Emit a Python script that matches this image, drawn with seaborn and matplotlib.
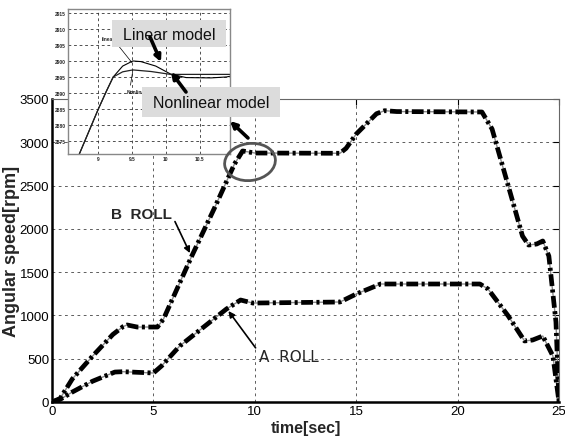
import matplotlib
matplotlib.use("Agg")
import matplotlib.pyplot as plt
from matplotlib.patches import Rectangle, Ellipse, FancyArrowPatch
import seaborn as sns

# Roll speed profiles (time in s, angular speed in rpm)
t_b = [0.0, 0.4, 1.0, 2.0, 3.0, 3.5, 3.7, 4.2, 5.2, 5.5, 6.9, 8.0, 9.0, 9.4,
       10.0, 14.2, 14.5, 15.0, 16.0, 16.4, 17.0, 21.2, 21.7, 22.5, 23.2, 23.5,
       23.9, 24.2, 24.5, 24.85, 25.0]
v_b = [0, 40, 266, 530, 780, 870, 890, 866, 866, 960, 1690, 2235, 2750, 2900,
       2876, 2873, 2930, 3095, 3330, 3365, 3355, 3350, 3153, 2495, 1917, 1813,
       1825, 1860, 1686, 924, 0]

t_a = [0.0, 0.4, 1.0, 2.0, 3.1, 3.5, 5.0, 5.4, 6.3, 8.6, 9.3, 9.9, 14.2, 15.0,
       16.2, 21.1, 21.5, 22.5, 23.3, 23.7, 24.2, 24.4, 24.7, 25.0]
v_a = [0, 30, 115, 240, 346, 350, 335, 416, 647, 1074, 1178, 1143, 1155, 1247,
       1363, 1363, 1305, 993, 705, 716, 762, 670, 531, 0]

# Zoomed view around the first speed peak: linear vs nonlinear model
t_lin = [8.70, 9.00, 9.12, 9.22, 9.36, 9.51, 9.63, 9.85, 10.07, 10.30, 10.67, 10.90, 10.97]
v_lin = [2870.0, 2885.0, 2890.6, 2895.0, 2898.4, 2900.0, 2899.8, 2898.4, 2895.9,
         2894.8, 2894.7, 2895.0, 2895.3]
t_nl = [8.70, 9.00, 9.12, 9.22, 9.36, 9.51, 9.78, 10.07, 10.97]
v_nl = [2870.0, 2885.0, 2890.6, 2895.0, 2896.6, 2897.2, 2896.7, 2895.8, 2895.8]

x_ticks = [0, 5, 10, 15, 20, 25]
y_ticks = [0, 500, 1000, 1500, 2000, 2500, 3000, 3500]
inset_x_ticks = [9, 9.5, 10, 10.5]
inset_x_labels = ["9", "9.5", "10", "10.5"]
inset_y_ticks = [2875, 2880, 2885, 2890, 2895, 2900, 2905, 2910, 2915]

sns.set_theme(style="white")
plt.rcParams["font.family"] = ["Liberation Sans Narrow", "Liberation Sans", "DejaVu Sans"]
plt.rcParams["lines.scale_dashes"] = False

W, H = 565, 439
fig = plt.figure(figsize=(W / 100, H / 100), dpi=100)
fig.patch.set_facecolor("white")


def frac(x0, y0, x1, y1):
    """Axes rectangle from top-left pixel box."""
    return [x0 / W, 1 - y1 / H, (x1 - x0) / W, (y1 - y0) / H]


ax = fig.add_axes(frac(52, 100, 559, 403))
ax.set_facecolor("white")

dash = (0, (8.5, 2.5, 2.2, 2.5))
for tt, vv in ((t_b, v_b), (t_a, v_a)):
    sns.lineplot(x=tt, y=vv, ax=ax, color="#8a8a8a", lw=1.0, sort=False,
                 estimator=None, zorder=3)
    sns.lineplot(x=tt, y=vv, ax=ax, color="black", lw=3.4, sort=False,
                 estimator=None, linestyle=dash, zorder=4)

ax.set_xlim(0, 25)
ax.set_ylim(0, 3500)
ax.set_xticks(x_ticks)
ax.set_yticks(y_ticks)
ax.tick_params(axis="both", which="both", direction="in", length=4, width=0.8,
               top=True, right=True, labelsize=9.5, pad=2, colors="black")
ax.grid(True, color="#444444", linestyle=(0, (2, 2.5)), lw=0.6)
for side in ("left", "bottom"):
    ax.spines[side].set_color("black")
    ax.spines[side].set_linewidth(1.8)
for side in ("top", "right"):
    ax.spines[side].set_color("#666666")
    ax.spines[side].set_linewidth(0.8)

ax.set_xlabel("time[sec]", fontsize=11.5, fontweight="bold")
ax.xaxis.set_label_coords(0.50, -0.058)
ax.set_ylabel("Angular speed[rpm]", fontsize=13, fontweight="bold",
              family=["Liberation Sans", "DejaVu Sans"])
ax.yaxis.set_label_coords(-0.064, 0.50)

ax.annotate("B  ROLL", xy=(6.8, 1720), xytext=(2.9, 2171), fontsize=11,
            fontweight="bold", family=["Liberation Sans", "DejaVu Sans"],
            va="center", ha="left",
            arrowprops=dict(arrowstyle="-|>", color="black", lw=1.2,
                            mutation_scale=9, shrinkA=0, shrinkB=0,
                            relpos=(1.05, 0.0)))
ax.annotate("A  ROLL", xy=(8.7, 1051), xytext=(10.2, 531), fontsize=11,
            family=["DejaVu Sans"], va="center", ha="left",
            arrowprops=dict(arrowstyle="-|>", color="black", lw=1.2,
                            mutation_scale=9, shrinkA=0, shrinkB=0,
                            relpos=(0.0, 0.75)))

# Inset: zoom on the overshoot of the B roll
ins = fig.add_axes(frac(68, 10, 230, 155))
ins.set_facecolor("white")
sns.lineplot(x=t_lin, y=v_lin, ax=ins, color="black", lw=0.8, sort=False,
             estimator=None)
sns.lineplot(x=t_nl, y=v_nl, ax=ins, color="#222222", lw=0.9, sort=False,
             estimator=None)
ins.set_xlim(8.55, 10.95)
ins.set_ylim(2870.9, 2916.25)
ins.set_xticks(inset_x_ticks)
ins.set_xticklabels(inset_x_labels)
ins.set_yticks(inset_y_ticks)
ins.set_yticklabels([str(v) for v in inset_y_ticks])
ins.tick_params(axis="both", direction="in", length=2, width=0.5, labelsize=3.5,
                pad=1.5)
for lbl in ins.get_xticklabels() + ins.get_yticklabels():
    lbl.set_fontweight("bold")
ins.grid(True, color="#333333", linestyle=(0, (2, 2)), lw=0.6)
for side in ins.spines.values():
    side.set_color("#888888")
    side.set_linewidth(1.0)
ins.annotate("linear", xy=(9.50, 2899.4), xytext=(9.05, 2906.9), fontsize=3.5,
             fontweight="bold", va="center", ha="left",
             arrowprops=dict(arrowstyle="-", color="black", lw=0.5,
                             shrinkA=0, shrinkB=0, relpos=(1.0, 0.0)))
ins.annotate("NonlinearM", xy=(9.51, 2897.0), xytext=(9.42, 2890.6), fontsize=3.5,
             fontweight="bold", va="center", ha="left",
             arrowprops=dict(arrowstyle="-", color="black", lw=0.5,
                             shrinkA=0, shrinkB=0, relpos=(0.12, 1.0)))

# Callout layer in pixel coordinates (origin at top-left)
ov = fig.add_axes([0, 0, 1, 1])
ov.set_xlim(0, W)
ov.set_ylim(H, 0)
ov.axis("off")
ov.patch.set_alpha(0)

box_font = ["Liberation Sans", "DejaVu Sans"]
for (x0, y0, x1, y1), txt in (((112, 21, 226, 48), "Linear model"),
                              ((142, 88, 280, 118), "Nonlinear model")):
    ov.add_patch(Rectangle((x0, y0), x1 - x0, y1 - y0, facecolor="#dcdcdc",
                           edgecolor="none"))
    ov.text((x0 + x1) / 2, (y0 + y1) / 2 + 1, txt, fontsize=11.5, family=box_font,
            ha="center", va="center", color="#111111")

for (x0, y0), (x1, y1) in (((150, 38), (161, 63)),
                           ((186, 93), (171, 73)),
                           ((248, 139), (230, 122))):
    ov.add_patch(FancyArrowPatch((x0, y0), (x1, y1), arrowstyle="-|>",
                                 mutation_scale=9, lw=2.6, color="black",
                                 shrinkA=0, shrinkB=0))

ov.add_patch(Ellipse((250, 163), 51, 37, angle=-8, facecolor="none",
                     edgecolor="#555555", lw=2.0))

fig.savefig("out.png", dpi=100)
